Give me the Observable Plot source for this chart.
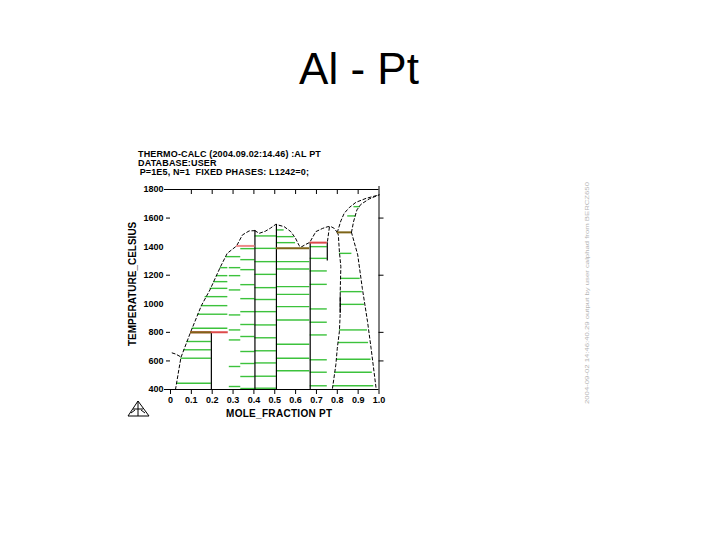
<!DOCTYPE html>
<html><head><meta charset="utf-8">
<script src="https://cdn.jsdelivr.net/npm/d3@7"></script>
<script src="https://cdn.jsdelivr.net/npm/@observablehq/plot@0.6"></script>
<style>
body{margin:0;background:#fff;width:720px;height:540px;position:relative;overflow:hidden;font-family:"Liberation Sans",Arial,sans-serif}
#chart{position:absolute;left:0;top:0}
.abs{position:absolute;white-space:pre;line-height:1;color:#000}
.hdr{font-size:9px;font-weight:bold;left:138px;letter-spacing:0.15px}
</style></head><body>
<div id="chart"></div>
<div class="abs" style="left:0;width:718px;text-align:center;top:47px;font-size:44px">Al - Pt</div>
<div class="abs hdr" style="top:149.5px">THERMO-CALC (2004.09.02:14.46) :AL PT</div>
<div class="abs hdr" style="top:158.5px">DATABASE:USER</div>
<div class="abs hdr" style="top:167.5px;left:137px"> P=1E5, N=1  FIXED PHASES: L1242=0;</div>
<div class="abs" style="left:226px;width:100px;text-align:center;top:409px;font-size:10px;font-weight:bold;letter-spacing:0.3px">MOLE_FRACTION PT</div>
<div class="abs" style="left:73px;width:120px;text-align:center;top:281px;font-size:10px;font-weight:bold;transform:rotate(-90deg);transform-origin:60px 5px">TEMPERATURE_CELSIUS</div>
<svg style="position:absolute;left:126px;top:399px" width="26" height="20"><g fill="none" stroke="#000" stroke-width="1"><path d="M12 2 L23 17 L2 17 Z"/><path d="M12 2 L12 17 M7 10 L17 10 M5 14 L9 11 M19 14 L15 11"/></g></svg>
<svg style="position:absolute;left:580px;top:178px" width="12" height="230"><text transform="translate(9,226) rotate(-90)" font-size="6" fill="#b4b4b4" font-family="Liberation Sans" textLength="222" lengthAdjust="spacingAndGlyphs">2004-09-02 14:46:40.29 output by user calphad from BERCZ650</text></svg>
<script>
// axis ticks
const xTickValues = [0, 0.1, 0.2, 0.3, 0.4, 0.5, 0.6, 0.7, 0.8, 0.9, 1.0];
const yTickValues = [400, 600, 800, 1000, 1200, 1400, 1600, 1800];
const yMarkedTicks = [600, 800, 1200, 1600];

// dashed phase boundaries (mole fraction Pt, temperature °C)
const alLiqX = [0.008, 0.025, 0.05];
const alLiqT = [656, 648, 628];
const leftLiqX = [0.024, 0.05, 0.096, 0.148, 0.189, 0.24, 0.272, 0.317, 0.345, 0.377, 0.405];
const leftLiqT = [400, 624, 800, 987, 1097, 1260, 1353, 1405, 1482, 1510, 1512];
const midLiqX = [0.405, 0.425, 0.455, 0.48, 0.505, 0.545, 0.577, 0.6, 0.617, 0.625, 0.648, 0.668, 0.697, 0.73, 0.755, 0.77, 0.785, 0.8];
const midLiqT = [1512, 1493, 1508, 1530, 1556, 1540, 1505, 1458, 1407, 1396, 1415, 1430, 1505, 1528, 1540, 1540, 1528, 1500];
const pt3alTopX = [0.762, 0.752];
const pt3alTopT = [1535, 1428];
const pt3alX = [0.8, 0.805, 0.81, 0.817, 0.814, 0.814, 0.81, 0.80, 0.793, 0.777];
const pt3alT = [1500, 1482, 1365, 1260, 1085, 934, 805, 689, 573, 409];
const ptSolvusX = [0.868, 0.898, 0.92, 0.945, 0.962, 0.986];
const ptSolvusT = [1500, 1342, 1108, 875, 689, 409];
const ptLiqX = [0.8, 0.817, 0.833, 0.857, 0.889, 0.938, 1.0];
const ptLiqT = [1500, 1580, 1633, 1673, 1710, 1738, 1762];
const ptSolX = [0.868, 0.878, 0.894, 0.913, 0.953, 1.0];
const ptSolT = [1500, 1575, 1657, 1696, 1734, 1762];

// compounds (solid vertical lines)
const compX = [0.196, 0.405, 0.508, 0.670, 0.752, 0.814];
const compTop = [800, 1512, 1556, 1428, 1428, 1050];
const compBottom = [400, 400, 400, 400, 1300, 934];

// invariant reactions
const invT = [800, 800, 1405, 1388, 1428, 1500];
const invX1 = [0.096, 0.096, 0.317, 0.508, 0.670, 0.800];
const invX2 = [0.277, 0.196, 0.405, 0.668, 0.752, 0.868];
const invKind = ["peritectic", "eutectic", "peritectic2", "eutectic", "peritectic", "eutectic"];

// tie lines
const tieT = [
  736, 678, 619, 444,
  829, 927, 987, 1050, 1108, 1155, 1197, 1253,
  1330,
  1253, 1197, 1097, 922, 817, 747, 561, 421,
  1386, 1309, 1239, 1134, 1036, 945, 855, 771, 666, 582, 491, 407,
  1475, 1388, 1295, 1206, 1113, 1030, 945, 852, 762, 671, 586, 493, 409,
  1517, 1470, 1428, 1295, 1244, 1120, 1066, 980, 887, 717, 619, 531,
  1400, 1318, 1230, 1136, 964, 871, 782, 608, 521, 426,
  1680, 1615,
  1353, 1178, 1085, 996, 817, 729, 612, 521, 426
];
const tieX1 = [
  0.078, 0.064, 0.05, 0.033,
  0.104, 0.131, 0.148, 0.166, 0.19, 0.207, 0.22, 0.238,
  0.266,
  0.282, 0.282, 0.282, 0.282, 0.282, 0.282, 0.282, 0.282,
  0.337, 0.337, 0.337, 0.337, 0.337, 0.337, 0.337, 0.337, 0.337, 0.337, 0.337, 0.337,
  0.405, 0.405, 0.405, 0.405, 0.405, 0.405, 0.405, 0.405, 0.405, 0.405, 0.405, 0.405, 0.405,
  0.508, 0.508, 0.508, 0.508, 0.508, 0.508, 0.508, 0.508, 0.508, 0.508, 0.508, 0.508,
  0.670, 0.670, 0.670, 0.670, 0.670, 0.670, 0.670, 0.670, 0.670, 0.670,
  0.88, 0.85,
  0.81, 0.817, 0.815, 0.815, 0.81, 0.805, 0.796, 0.788, 0.78
];
const tieX2 = [
  0.196, 0.196, 0.196, 0.196,
  0.275, 0.275, 0.275, 0.275, 0.275, 0.275, 0.275, 0.275,
  0.337,
  0.337, 0.337, 0.337, 0.337, 0.337, 0.337, 0.337, 0.337,
  0.405, 0.405, 0.405, 0.405, 0.405, 0.405, 0.405, 0.405, 0.405, 0.405, 0.405, 0.405,
  0.508, 0.508, 0.508, 0.508, 0.508, 0.508, 0.508, 0.508, 0.508, 0.508, 0.508, 0.508, 0.508,
  0.545, 0.593, 0.6, 0.668, 0.668, 0.668, 0.668, 0.668, 0.668, 0.668, 0.668, 0.668,
  0.752, 0.752, 0.752, 0.752, 0.752, 0.752, 0.752, 0.752, 0.752, 0.752,
  0.91, 0.89,
  0.87, 0.91, 0.92, 0.93, 0.945, 0.95, 0.962, 0.968, 0.975
];

const pts = (xs, ts) => xs.map((x, i) => ({x, T: ts[i]}));
const ties = tieT.map((t, i) => ({T: t, x1: tieX1[i], x2: tieX2[i]}));
const comps = compX.map((x, i) => ({x, t1: compBottom[i], t2: compTop[i]}));
const invs = invT.map((t, i) => ({T: t, x1: invX1[i], x2: invX2[i], kind: invKind[i]}));
const invColor = {peritectic: "#dd4a4a", peritectic2: "#ee8a8a", eutectic: "#7e6418"};
const curves = [
  pts(alLiqX, alLiqT), pts(leftLiqX, leftLiqT), pts(midLiqX, midLiqT),
  pts(pt3alTopX, pt3alTopT), pts(pt3alX, pt3alT), pts(ptSolvusX, ptSolvusT),
  pts(ptLiqX, ptLiqT), pts(ptSolX, ptSolT)
];
const plotH = 540 - 189 - 151;
const plotW = 720 - 170 - 341.5;
const dash = {x: "x", y: "T", stroke: "#000", strokeWidth: 1, strokeDasharray: "3,2.5", curve: "monotone-y"};

const chart = Plot.plot({
  width: 720, height: 540,
  marginLeft: 170, marginRight: 341.5, marginTop: 189, marginBottom: 151,
  x: {domain: [0, 1]},
  y: {domain: [400, 1800]},
  style: {fontFamily: "Liberation Sans, Arial, sans-serif", background: "transparent", color: "#000"},
  marks: [
    Plot.ruleY(ties, {y: "T", x1: "x1", x2: "x2", stroke: "#3cc23c", strokeWidth: 1.4}),
    ...curves.map(c => Plot.line(c, {...dash, curve: "linear"})),
    Plot.ruleX(comps, {x: "x", y1: "t1", y2: "t2", stroke: "#000", strokeWidth: 1.2}),
    Plot.ruleY(invs, {y: "T", x1: "x1", x2: "x2", stroke: d => invColor[d.kind], strokeWidth: 2}),
    // frame
    Plot.ruleY([1800], {stroke: "#000", insetLeft: -6}),
    Plot.ruleY([400], {stroke: "#000", insetLeft: -6}),
    Plot.ruleX([1], {stroke: "#000", insetTop: -3}),
    Plot.ruleX(xTickValues.slice(1, -1), {stroke: "#000", insetBottom: plotH - 5}),
    Plot.ruleX(xTickValues, {stroke: "#000", insetTop: plotH, insetBottom: -5}),
    Plot.ruleY(yMarkedTicks, {stroke: "#000", insetLeft: plotW, insetRight: -5}),
    Plot.ruleY(yMarkedTicks, {stroke: "#000", insetLeft: -4, insetRight: plotW}),
    Plot.axisY({ticks: yTickValues, tickFormat: d => String(d), tickSize: 0, tickPadding: 7, fontSize: 9, fontWeight: "bold", label: null}),
    Plot.axisX({ticks: xTickValues, tickFormat: d => d === 0 ? "0" : d.toFixed(1), tickSize: 0, tickPadding: 7, fontSize: 9, fontWeight: "bold", label: null})
  ]
});
document.getElementById("chart").appendChild(chart);
</script>
</body></html>
